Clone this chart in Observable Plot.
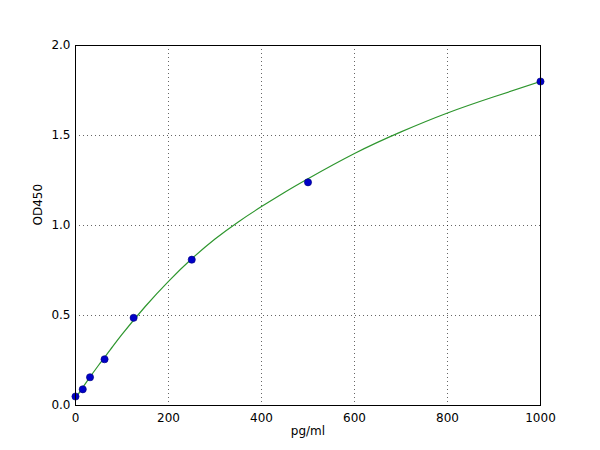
<!DOCTYPE html>
<html>
<head>
<meta charset="utf-8">
<script src="https://cdn.jsdelivr.net/npm/d3@7"></script>
<script src="https://cdn.jsdelivr.net/npm/@observablehq/plot@0.6"></script>
<style>
  html, body { margin: 0; padding: 0; background: #fff; }
  #chart svg { display: block; }
</style>
</head>
<body>
<div id="chart"></div>
<script>
// Standard points
const concentrations = [0, 15.6, 31.25, 62.5, 125, 250, 500, 1000];
const od450 = [0.05, 0.09, 0.157, 0.257, 0.487, 0.81, 1.24, 1.80];

// Fitted curve
const curveX = [0, 25, 50, 75, 100, 150, 200, 250, 300, 350, 400, 450, 500, 600, 700, 800, 900, 1000];
const curveY = [0.04, 0.135, 0.225, 0.31, 0.395, 0.55, 0.69, 0.815, 0.925, 1.02, 1.105, 1.185, 1.26, 1.40, 1.52, 1.625, 1.715, 1.80];

const xTicks = [0, 200, 400, 600, 800, 1000];
const yTicks = [0.0, 0.5, 1.0, 1.5, 2.0];

const points = concentrations.map((c, i) => ({x: c, y: od450[i]}));
const curve = curveX.map((c, i) => ({x: c, y: curveY[i]}));

const chart = Plot.plot({
  width: 600,
  height: 450,
  marginLeft: 75,
  marginRight: 60,
  marginTop: 45,
  marginBottom: 45,
  style: {fontFamily: "DejaVu Sans", fontSize: "12px", color: "#000", background: "#fff"},
  x: {domain: [0, 1000], ticks: xTicks, tickFormat: d3.format("d"), label: null},
  y: {domain: [0, 2], ticks: yTicks, tickFormat: d3.format(".1f"), label: null},
  marks: [
    Plot.gridX(xTicks, {stroke: "#000", strokeOpacity: 0.6, strokeDasharray: "1,3"}),
    Plot.gridY(yTicks, {stroke: "#000", strokeOpacity: 0.6, strokeDasharray: "1,3"}),
    Plot.axisX(xTicks, {tickSize: 0, tickPadding: 8, fontSize: 12, tickFormat: d3.format("d")}),
    Plot.axisY(yTicks, {tickSize: 0, tickPadding: 5, fontSize: 12, tickFormat: d3.format(".1f")}),
    Plot.text(["pg/ml"], {frameAnchor: "bottom", dy: 29, fontSize: 12}),
    Plot.text(["OD450"], {frameAnchor: "left", dx: -37, rotate: -90, fontSize: 12}),
    Plot.line(curve, {x: "x", y: "y", stroke: "#2e962e", strokeWidth: 1.2, curve: "natural", clip: true}),
    Plot.dot(points, {x: "x", y: "y", r: 3.6, fill: "#0000c8", stroke: "#00007a", strokeWidth: 0.6, clip: false}),
    Plot.frame({stroke: "#000", strokeWidth: 1})
  ]
});
document.getElementById("chart").append(chart);
</script>
</body>
</html>
